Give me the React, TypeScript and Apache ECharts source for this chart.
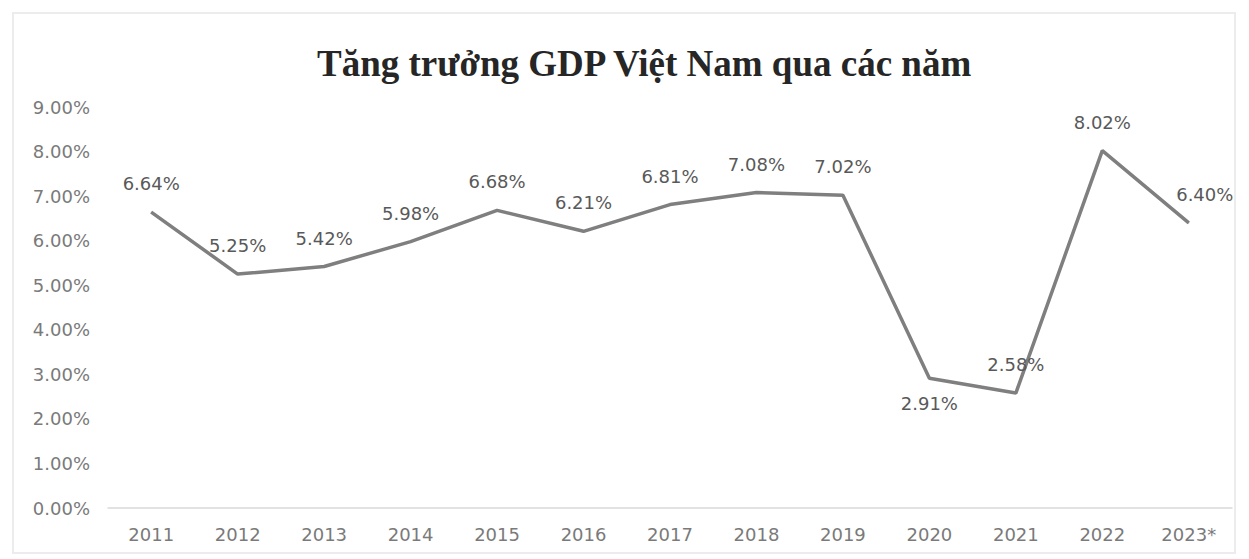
import React, { useEffect, useRef } from "react";
import * as echarts from "echarts";

const years = ["2011", "2012", "2013", "2014", "2015", "2016", "2017", "2018", "2019", "2020", "2021", "2022", "2023*"];
const growth = [6.64, 5.25, 5.42, 5.98, 6.68, 6.21, 6.81, 7.08, 7.02, 2.91, 2.58, 8.02, 6.40];
const belowLabels = ["2020"];
const shiftedLabels = ["2023*"];
const titleText = "Tăng trưởng GDP Việt Nam qua các năm";

export default function App() {
  const ref = useRef<HTMLDivElement>(null);
  useEffect(() => {
    if (!ref.current) return;
    const chart = echarts.init(ref.current, null, { renderer: "svg" });
    chart.setOption({
      animation: false,
      backgroundColor: "#ffffff",
      title: {
        text: titleText,
        left: 312,
        top: 40,
        textStyle: { fontFamily: "Liberation Serif", fontWeight: "bold", fontSize: 37, color: "#262626" },
      },
      graphic: [
        {
          type: "rect",
          shape: { x: 13, y: 13, width: 1222, height: 540 },
          style: { fill: "none", stroke: "#ececec", lineWidth: 2 },
        },
      ],
      grid: { left: 108, right: 17, top: 107, bottom: 51 },
      xAxis: {
        type: "category",
        data: years,
        boundaryGap: true,
        axisLine: { lineStyle: { color: "#d9d9d9", width: 1.5 } },
        axisTick: { show: false },
        axisLabel: { color: "#7a7a7a", fontSize: 18, fontFamily: "DejaVu Sans", margin: 17 },
      },
      yAxis: {
        type: "value",
        min: 0,
        max: 9,
        interval: 1,
        splitLine: { show: false },
        axisLine: { show: false },
        axisTick: { show: false },
        axisLabel: {
          color: "#7a7a7a",
          fontSize: 18,
          fontFamily: "DejaVu Sans",
          margin: 18,
          formatter: (v: number) => v.toFixed(2) + "%",
        },
      },
      series: [
        {
          type: "line",
          data: growth.map((v, i) => ({
            value: v,
            label: belowLabels.includes(years[i])
              ? { position: "bottom", distance: 16 }
              : shiftedLabels.includes(years[i])
              ? { offset: [16, 0] }
              : undefined,
          })),
          symbol: "circle",
          symbolSize: 1,
          showSymbol: true,
          itemStyle: { color: "#7f7f7f" },
          lineStyle: { color: "#7f7f7f", width: 3.5 },
          label: {
            show: true,
            position: "top",
            distance: 19,
            color: "#595959",
            fontSize: 18,
            fontFamily: "DejaVu Sans",
            formatter: (p: any) => p.value.toFixed(2) + "%",
          },
        },
      ],
    });
    return () => chart.dispose();
  }, []);
  return <div ref={ref} style={{ width: 1249, height: 559, position: "absolute", left: 0, top: 0 }} />;
}
